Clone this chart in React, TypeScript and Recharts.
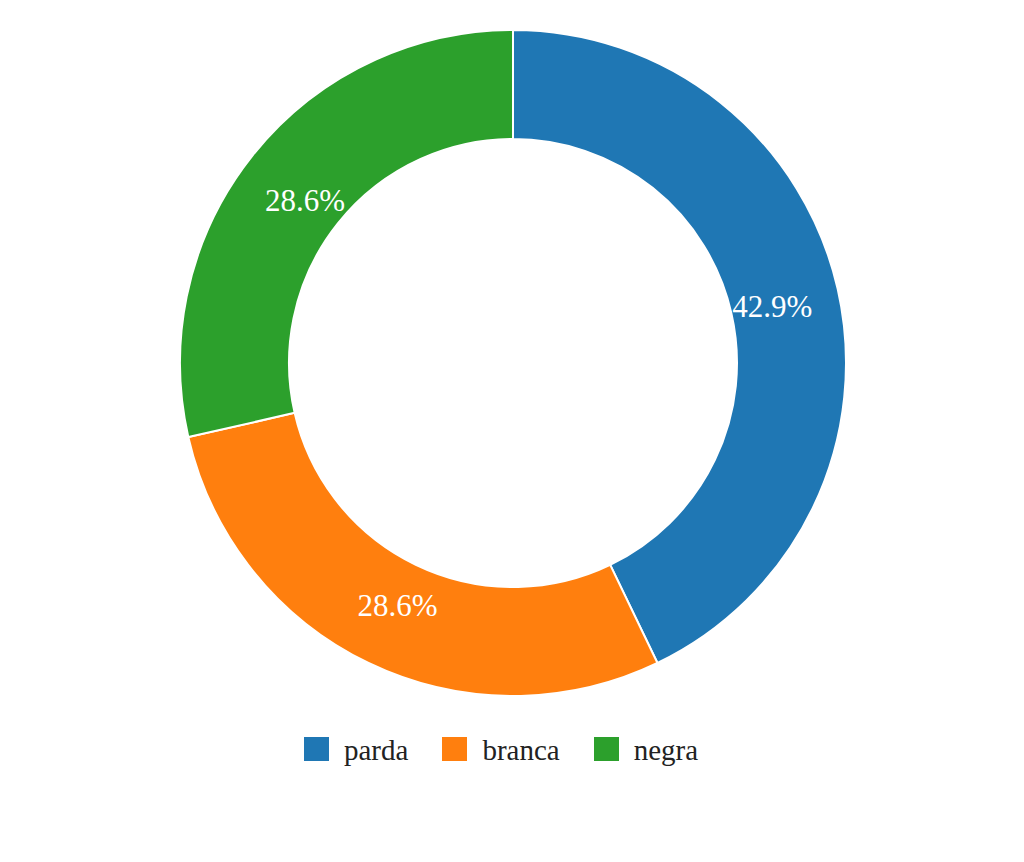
import { PieChart, Pie, Cell, Legend } from 'recharts';

// Slice data (42.9% / 28.6% / 28.6% → 3 / 2 / 2)
const categories = ['parda', 'branca', 'negra'];
const counts = [3, 2, 2];
const colors = ['#1f77b4', '#ff7f0e', '#2ca02c'];

const data = categories.map((name, i) => ({ name, value: counts[i] }));
const total = counts.reduce((a, b) => a + b, 0);

const FONT = '"Liberation Serif", "Times New Roman", serif';
const RAD = Math.PI / 180;

function SliceLabel(props: any) {
  const { cx, cy, midAngle, value } = props;
  const r = 266;
  const x = cx + r * Math.cos(-midAngle * RAD);
  const y = cy + r * Math.sin(-midAngle * RAD) + 3;
  return (
    <text
      x={x}
      y={y}
      fill="#ffffff"
      textAnchor="middle"
      dominantBaseline="central"
      style={{ fontFamily: FONT, fontSize: 31 }}
    >
      {((value / total) * 100).toFixed(1)}%
    </text>
  );
}

function LegendContent() {
  return (
    <div style={{ display: 'flex', alignItems: 'center', fontFamily: FONT, fontSize: 29, color: '#222' }}>
      {categories.map((name, i) => (
        <div key={name} style={{ display: 'flex', alignItems: 'center', marginRight: 34 }}>
          <span style={{ display: 'inline-block', width: 25, height: 24, background: colors[i], marginRight: 15 }} />
          <span style={{ lineHeight: '24px', position: 'relative', top: 1 }}>{name}</span>
        </div>
      ))}
    </div>
  );
}

export default function App() {
  return (
    <div style={{ position: 'absolute', top: 0, left: 0, width: 1024, height: 862, background: '#fff' }}>
      <PieChart width={1024} height={862} margin={{ top: 0, right: 0, bottom: 0, left: 0 }}>
        <Pie
          data={data}
          dataKey="value"
          nameKey="name"
          cx={513}
          cy={363}
          innerRadius={224}
          outerRadius={333}
          startAngle={90}
          endAngle={-270}
          stroke="#ffffff"
          strokeWidth={2}
          label={SliceLabel}
          labelLine={false}
          isAnimationActive={false}
        >
          {data.map((d, i) => (
            <Cell key={d.name} fill={colors[i]} />
          ))}
        </Pie>
        <Legend
          content={<LegendContent />}
          wrapperStyle={{ position: 'absolute', top: 737, left: 304, width: 'auto' }}
        />
      </PieChart>
    </div>
  );
}
